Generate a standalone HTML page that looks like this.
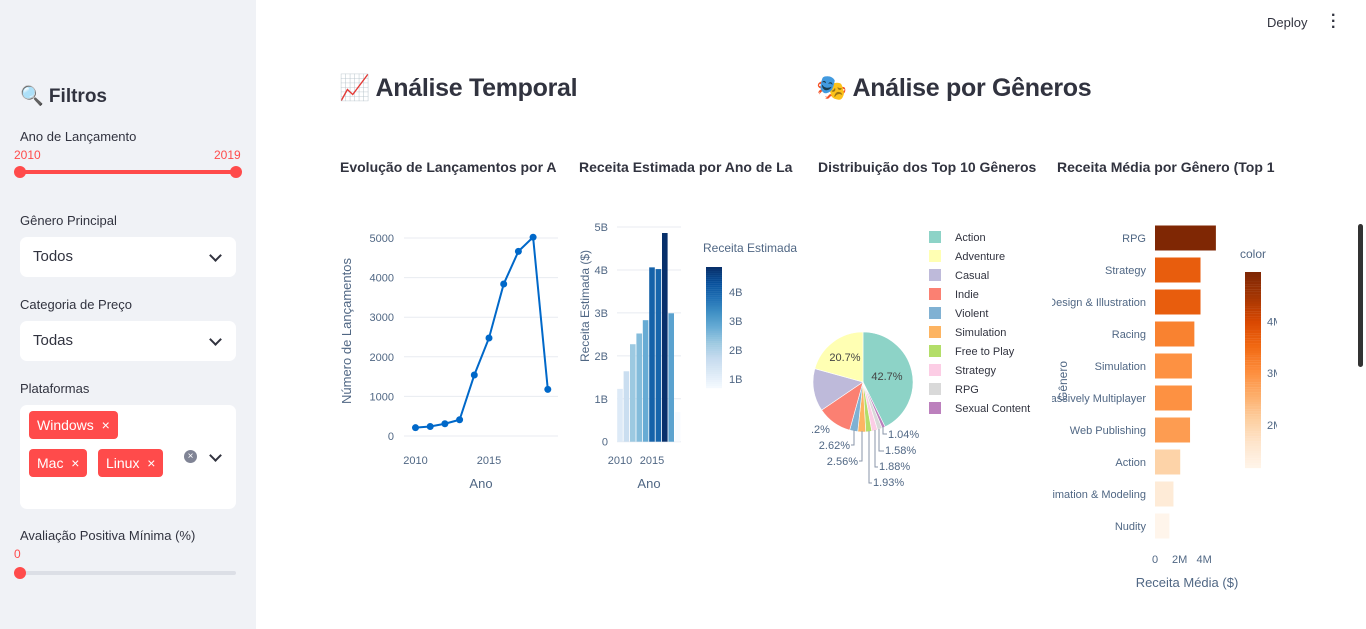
<!DOCTYPE html>
<html><head><meta charset="utf-8">
<style>
body{margin:0;width:1366px;height:629px;overflow:hidden;font-family:"Liberation Sans","Noto Sans CJK JP",sans-serif;background:#fff;position:relative;color:#31333f}
#sb{position:absolute;left:0;top:0;width:256px;height:629px;background:#f0f2f6}
.lbl{position:absolute;left:20px;font-size:13px;color:#31333f}
.sel{position:absolute;left:20px;width:216px;height:40px;background:#fff;border-radius:7px}
.sel span{position:absolute;left:13px;top:11px;font-size:15px}
.chev{position:absolute;right:16px;top:14px;width:7px;height:7px;border-right:2px solid #31333f;border-bottom:2px solid #31333f;transform:rotate(45deg)}
.tag{position:absolute;background:#ff4b4b;color:#fff;border-radius:4px;font-size:14px;height:28px;line-height:28px;padding:0 8px}
svg text{font-family:"Liberation Sans",sans-serif}
</style></head><body>
<div id="sb">
 <div style="position:absolute;left:20px;top:84px;font-size:19px;font-weight:bold">🔍 Filtros</div>
 <div class="lbl" style="top:129px">Ano de Lançamento</div>
 <div style="position:absolute;left:14px;top:148px;font-size:12px;color:#ff4b4b">2010</div>
 <div style="position:absolute;left:214px;top:148px;font-size:12px;color:#ff4b4b">2019</div>
 <div style="position:absolute;left:20px;top:170px;width:216px;height:4px;background:#ff4b4b"></div>
 <div style="position:absolute;left:14px;top:166px;width:12px;height:12px;border-radius:6px;background:#ff4b4b"></div>
 <div style="position:absolute;left:230px;top:166px;width:12px;height:12px;border-radius:6px;background:#ff4b4b"></div>
 <div class="lbl" style="top:213px">Gênero Principal</div>
 <div class="sel" style="top:237px"><span>Todos</span><div class="chev"></div></div>
 <div class="lbl" style="top:297px">Categoria de Preço</div>
 <div class="sel" style="top:321px"><span>Todas</span><div class="chev"></div></div>
 <div class="lbl" style="top:381px">Plataformas</div>
 <div class="sel" style="top:405px;height:104px">
  <div class="tag" style="left:9px;top:6px">Windows&nbsp; ×</div>
  <div class="tag" style="left:9px;top:44px">Mac&nbsp; ×</div>
  <div class="tag" style="left:78px;top:44px">Linux&nbsp; ×</div>
  <div style="position:absolute;left:164px;top:45px;width:13px;height:13px;border-radius:7px;background:#808495;color:#fff;font-size:10px;line-height:13px;text-align:center">×</div>
  <div class="chev" style="top:46px"></div>
 </div>
 <div class="lbl" style="top:528px">Avaliação Positiva Mínima (%)</div>
 <div style="position:absolute;left:14px;top:547px;font-size:12px;color:#ff4b4b">0</div>
 <div style="position:absolute;left:20px;top:571px;width:216px;height:4px;background:#dcdfe6;border-radius:2px"></div>
 <div style="position:absolute;left:14px;top:567px;width:12px;height:12px;border-radius:6px;background:#ff4b4b"></div>
</div>
<div style="position:absolute;left:1267px;top:15px;font-size:13px">Deploy</div>
<div style="position:absolute;left:1331px;top:13px;font-size:16px;font-weight:bold;line-height:6px">·<br>·<br>·</div>
<div style="position:absolute;left:1358px;top:224px;width:5px;height:143px;background:#333;border-radius:3px"></div>
<div style="position:absolute;left:339px;top:74px;font-size:25px;font-weight:bold;letter-spacing:-0.3px">📈 Análise Temporal</div>
<div style="position:absolute;left:816px;top:74px;font-size:25px;font-weight:bold;letter-spacing:-0.3px">🎭 Análise por Gêneros</div>
<svg id="ch" width="1366" height="629" style="position:absolute;left:0;top:0"></svg>
<script>
const years=[2010,2011,2012,2013,2014,2015,2016,2017,2018,2019];
const releases=[210,240,310,410,1540,2475,3838,4663,5020,1178];
const releaseTicks=[0,1000,2000,3000,4000,5000];
const revenue=[1.23,1.64,2.27,2.52,2.83,4.06,4.02,4.86,2.99,0.69];
const revTicks=[0,1,2,3,4,5];
const pieLabels=["Action","Adventure","Casual","Indie","Violent","Simulation","Free to Play","Strategy","RPG","Sexual Content"];
const pieValues=[42.7,20.7,13.8,11.2,2.62,2.56,1.93,1.88,1.58,1.04];
const pieColors=["#8dd3c7","#ffffb3","#bebada","#fb8072","#80b1d3","#fdb462","#b3de69","#fccde5","#d9d9d9","#bc80bd"];
const genreCats=["RPG","Strategy","Design & Illustration","Racing","Simulation","Massively Multiplayer","Web Publishing","Action","Animation & Modeling","Nudity"];
const genreRev=[4.95,3.7,3.7,3.2,3.0,3.0,2.85,2.05,1.5,1.17];
const NS="http://www.w3.org/2000/svg",svg=document.getElementById('ch');
function mk(t,a,txt,parent){const e=document.createElementNS(NS,t);for(const k in a)e.setAttribute(k,a[k]);if(txt!=null)e.textContent=txt;(parent||svg).appendChild(e);return e;}
function lerpScale(stops,t){t=Math.max(0,Math.min(1,t));const n=stops.length-1,i=Math.min(n-1,Math.floor(t*n)),f=t*n-i;const a=stops[i],b=stops[i+1];const h=s=>[1,3,5].map(j=>parseInt(s.substr(j,2),16));const A=h(a),B=h(b);return'rgb('+A.map((v,k)=>Math.round(v+(B[k]-v)*f)).join(',')+')';}
const blues=['#f7fbff','#deebf7','#c6dbef','#9ecae1','#6baed6','#4292c6','#2171b5','#08519c','#08306b'];
const oranges=['#fff5eb','#fee6ce','#fdd0a2','#fdae6b','#fd8d3c','#f16913','#d94801','#a63603','#7f2704'];
const tc='#506784',gc='#e8ebf1';
[["Evolução de Lançamentos por A",340,"title-releases",218],["Receita Estimada por Ano de La",579,"title-revenue",219],["Distribuição dos Top 10 Gêneros",818,"title-pie",218],["Receita Média por Gênero (Top 10)",1057,"title-genre-revenue",218]].forEach(([s,x,n,w],i)=>{
 const cp=mk('clipPath',{id:'c'+i});mk('rect',{x:x,y:150,width:w,height:30},null,cp);
 const t=mk('text',{x:x,y:172,'font-size':14,'font-weight':'bold',fill:'#31333f','clip-path':'url(#c'+i+')'},s);
 
 
});
// chart 1
const x1=y=>415.5+(y-2010)*14.7, y1=v=>436-v*(198/5000);
releaseTicks.forEach(v=>{mk('line',{x1:404,x2:558,y1:y1(v),y2:y1(v),stroke:gc});mk('text',{x:394,y:y1(v)+4,'text-anchor':'end','font-size':11,fill:tc},v);});
[2010,2015].forEach(y=>mk('text',{x:x1(y),y:464,'text-anchor':'middle','font-size':11,fill:tc},y));
mk('text',{x:481,y:488,'text-anchor':'middle','font-size':13,fill:tc},'Ano');
mk('text',{x:351,y:331,'text-anchor':'middle','font-size':13,fill:tc,transform:'rotate(-90 351 331)'},'Número de Lançamentos');
const ln=mk('polyline',{points:years.map((y,i)=>x1(y)+','+y1(releases[i])).join(' '),fill:'none',stroke:'#0068c9','stroke-width':2});


years.forEach((y,i)=>{const c=mk('circle',{cx:x1(y),cy:y1(releases[i]),r:3.5,fill:'#0068c9'});
 
 });
// chart 2
const x2=y=>620+(y-2010)*6.4, y2=v=>441.7-v*(214.7/5);
revTicks.forEach(v=>{mk('line',{x1:617,x2:681,y1:y2(v),y2:y2(v),stroke:gc});mk('text',{x:608,y:y2(v)+4,'text-anchor':'end','font-size':11,fill:tc},v?v+'B':'0');});
const rmin=Math.min(...revenue),rmax=Math.max(...revenue);
years.forEach((y,i)=>{const b=mk('rect',{x:x2(y)-2.8,y:y2(revenue[i]),width:5.6,height:y2(0)-y2(revenue[i]),fill:lerpScale(blues,(revenue[i]-rmin)/(rmax-rmin))});
 
 });
[2010,2015].forEach(y=>mk('text',{x:x2(y),y:464,'text-anchor':'middle','font-size':11,fill:tc},y));
mk('text',{x:649,y:488,'text-anchor':'middle','font-size':13,fill:tc},'Ano');
mk('text',{x:589,y:306,'text-anchor':'middle','font-size':12,fill:tc,transform:'rotate(-90 589 306)'},'Receita Estimada ($)');
mk('text',{x:703,y:252,'font-size':12,fill:tc},'Receita Estimada');
for(let k=0;k<60;k++){mk('rect',{x:706,y:267+k*121/60,width:16,height:2.2,fill:lerpScale(blues,1-k/60)});}
[1,2,3,4].forEach(v=>mk('text',{x:729,y:267+(rmax-v)/(rmax-rmin)*121+4,'font-size':11,fill:tc},v+'B'));
// pie: Action clockwise from top, then remaining in reverse order
const cx=863,cy=382,R=50;let a0=0;const tot=pieValues.reduce((a,b)=>a+b,0);
const order=[0,9,8,7,6,5,4,3,2,1];
order.forEach(i=>{const v=pieValues[i];const a1=a0+v/tot*Math.PI*2;const p=(a)=>[cx+R*Math.sin(a),cy-R*Math.cos(a)];const [sx,sy]=p(a0),[ex,ey]=p(a1);
 const s=mk('path',{d:`M${cx},${cy}L${sx},${sy}A${R},${R} 0 ${a1-a0>Math.PI?1:0} 1 ${ex},${ey}Z`,fill:pieColors[i],stroke:'#fff','stroke-width':0.6});
 
 
 a0=a1;});
mk('text',{x:887,y:380,'text-anchor':'middle','font-size':11,fill:'#444'},pieValues[0]+'%');
mk('text',{x:845,y:361,'text-anchor':'middle','font-size':11,fill:'#444'},pieValues[1]+'%');
mk('text',{x:811,y:433,'font-size':11,fill:tc},'.2%');
[[4,1,850,449],[5,1,858,465],[9,0,888,438],[8,0,885,454],[7,0,879,470],[6,0,873,486]].forEach(([i,left,tx,ty])=>{
 mk('text',{x:tx,y:ty,'text-anchor':left?'end':'start','font-size':11,fill:tc},pieValues[i]+'%');});
mk('path',{d:'M854,430V445H851 M862,431V461H859 M883,427V434H887 M879,429V451H884 M875,430V467H878 M869,431V483H872',fill:'none',stroke:'#8a96aa','stroke-width':1});
pieLabels.forEach((l,i)=>{const y=237+i*19;mk('rect',{x:929,y:y-6,width:12,height:12,fill:pieColors[i]});
 const t=mk('text',{x:955,y:y+4,'font-size':11,fill:'#31333f'},l);
 
 });
// chart 4
const x4=v=>1155+v*12.3, yc=i=>238+i*32;
const cp=mk('clipPath',{id:'cl4'});mk('rect',{x:1052,y:200,width:100,height:350},null,cp);
const gmin=Math.min(...genreRev),gmax=Math.max(...genreRev);
genreCats.forEach((g,i)=>{const b=mk('rect',{x:x4(0),y:yc(i)-12.5,width:x4(genreRev[i])-x4(0),height:25,fill:lerpScale(oranges,(genreRev[i]-gmin)/(gmax-gmin))});
 
 
 mk('text',{x:1146,y:yc(i)+4,'text-anchor':'end','font-size':11,fill:tc,'clip-path':'url(#cl4)'},g);});
[0,2,4].forEach(v=>mk('text',{x:x4(v),y:563,'text-anchor':'middle','font-size':11,fill:tc},v?v+'M':'0'));
mk('text',{x:1187,y:587,'text-anchor':'middle','font-size':13,fill:tc},'Receita Média ($)');
mk('text',{x:1067,y:381,'text-anchor':'middle','font-size':12,fill:tc,transform:'rotate(-90 1067 381)'},'Gênero');
mk('text',{x:1240,y:258,'font-size':12,fill:tc},'color');
for(let k=0;k<80;k++){mk('rect',{x:1245,y:272+k*196/80,width:16,height:2.6,fill:lerpScale(oranges,1-k/80)});}
const cp2=mk('clipPath',{id:'cl5'});mk('rect',{x:1260,y:250,width:17,height:250},null,cp2);
[2,3,4].forEach(v=>mk('text',{x:1267,y:272+(gmax-v)/(gmax-gmin)*196+4,'font-size':11,fill:tc,'clip-path':'url(#cl5)'},v+'M'));
</script>
</body></html>
